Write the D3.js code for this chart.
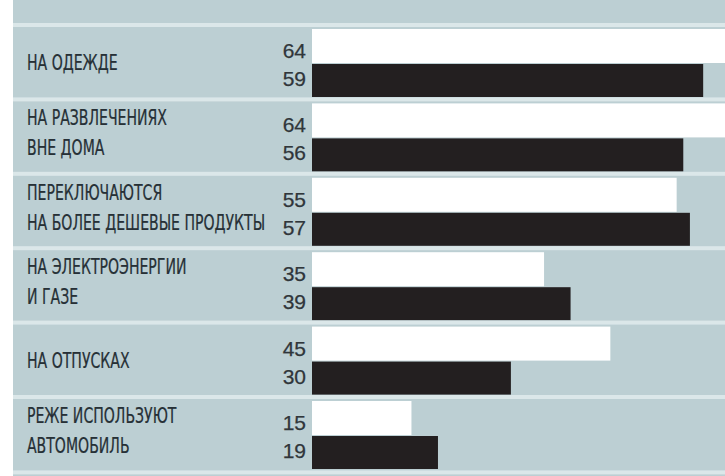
<!DOCTYPE html>
<html>
<head>
<meta charset="utf-8">
<script src="https://cdn.jsdelivr.net/npm/d3@7"></script>
<style>
  html, body { margin: 0; padding: 0; background: #fff; }
  svg { display: block; }
  .label { font-family: "Liberation Sans Narrow", "DejaVu Sans Condensed", sans-serif; font-size: 22px; fill: #263036; stroke: #263036; stroke-width: 0.25px; }
  .value { font-family: "Liberation Sans", Arial, sans-serif; font-size: 21px; fill: #30363a; stroke: #30363a; stroke-width: 0.25px; }
</style>
</head>
<body>
<div id="chart"></div>
<script>
// categories (label lines) and the two series
const categories = [
  ["НА ОДЕЖДЕ"],
  ["НА РАЗВЛЕЧЕНИЯХ", "ВНЕ ДОМА"],
  ["ПЕРЕКЛЮЧАЮТСЯ", "НА БОЛЕЕ ДЕШЕВЫЕ ПРОДУКТЫ"],
  ["НА ЭЛЕКТРОЭНЕРГИИ", "И ГАЗЕ"],
  ["НА ОТПУСКАХ"],
  ["РЕЖЕ ИСПОЛЬЗУЮТ", "АВТОМОБИЛЬ"]
];
const whiteValues = [64, 64, 55, 35, 45, 15];
const blackValues = [59, 56, 57, 39, 30, 19];

const width = 725, height = 476;
const bg = "#bccfd3";

const svg = d3.select("#chart").append("svg")
  .attr("width", width)
  .attr("height", height);

// background panel with white strip on the left
svg.append("rect").attr("x", 0).attr("y", 0).attr("width", width).attr("height", height).attr("fill", "#fff");
svg.append("rect").attr("x", 13).attr("y", 0).attr("width", width - 13).attr("height", height).attr("fill", bg);

// scales
const x = d3.scaleLinear().domain([0, 100]).range([312, 975]);
const y = d3.scaleBand().domain(d3.range(categories.length)).range([25, 471.4]).paddingInner(0);
const bh = 34;

const rows = svg.selectAll(".row")
  .data(categories)
  .enter().append("g")
  .attr("class", "row")
  .attr("transform", (d, i) => `translate(0,${y(i)})`);

// separator line at the top of each row
rows.append("rect")
  .attr("x", 13).attr("y", -2)
  .attr("width", width - 13).attr("height", 4)
  .attr("fill", "#dbe7e9");

// white bars
rows.append("rect")
  .attr("x", x(0)).attr("y", 4)
  .attr("width", (d, i) => x(whiteValues[i]) - x(0))
  .attr("height", bh)
  .attr("fill", "#ffffff");

// black bars
rows.append("rect")
  .attr("x", x(0)).attr("y", 39)
  .attr("width", (d, i) => x(blackValues[i]) - x(0))
  .attr("height", bh - 1)
  .attr("fill", "#231f20");

// value numbers
rows.append("text")
  .attr("class", "value")
  .attr("x", 306).attr("y", 33)
  .attr("text-anchor", "end")
  .text((d, i) => whiteValues[i]);
rows.append("text")
  .attr("class", "value")
  .attr("x", 306).attr("y", 61)
  .attr("text-anchor", "end")
  .text((d, i) => blackValues[i]);

// category labels
const labels = rows.append("g")
  .attr("class", "labelgroup");

labels.each(function(lines) {
  const g = d3.select(this);
  const baselines = lines.length === 1 ? [45] : [26, 56];
  lines.forEach((line, j) => {
    g.append("text")
      .attr("class", "label")
      .attr("x", 0)
      .attr("y", baselines[j])
      .text(line);
  });
});

// squeeze labels so "НА РАЗВЛЕЧЕНИЯХ" is about 140px wide
const probe = labels.filter((d, i) => i === 1).select("text").node();
const k = probe ? 140 / probe.getComputedTextLength() : 1;
labels.attr("transform", `translate(27,0) scale(${k},1)`);

// bottom separator
svg.append("rect")
  .attr("x", 13).attr("y", y.range()[1] - 1)
  .attr("width", width - 13).attr("height", 4)
  .attr("fill", "#dbe7e9");
</script>
</body>
</html>
